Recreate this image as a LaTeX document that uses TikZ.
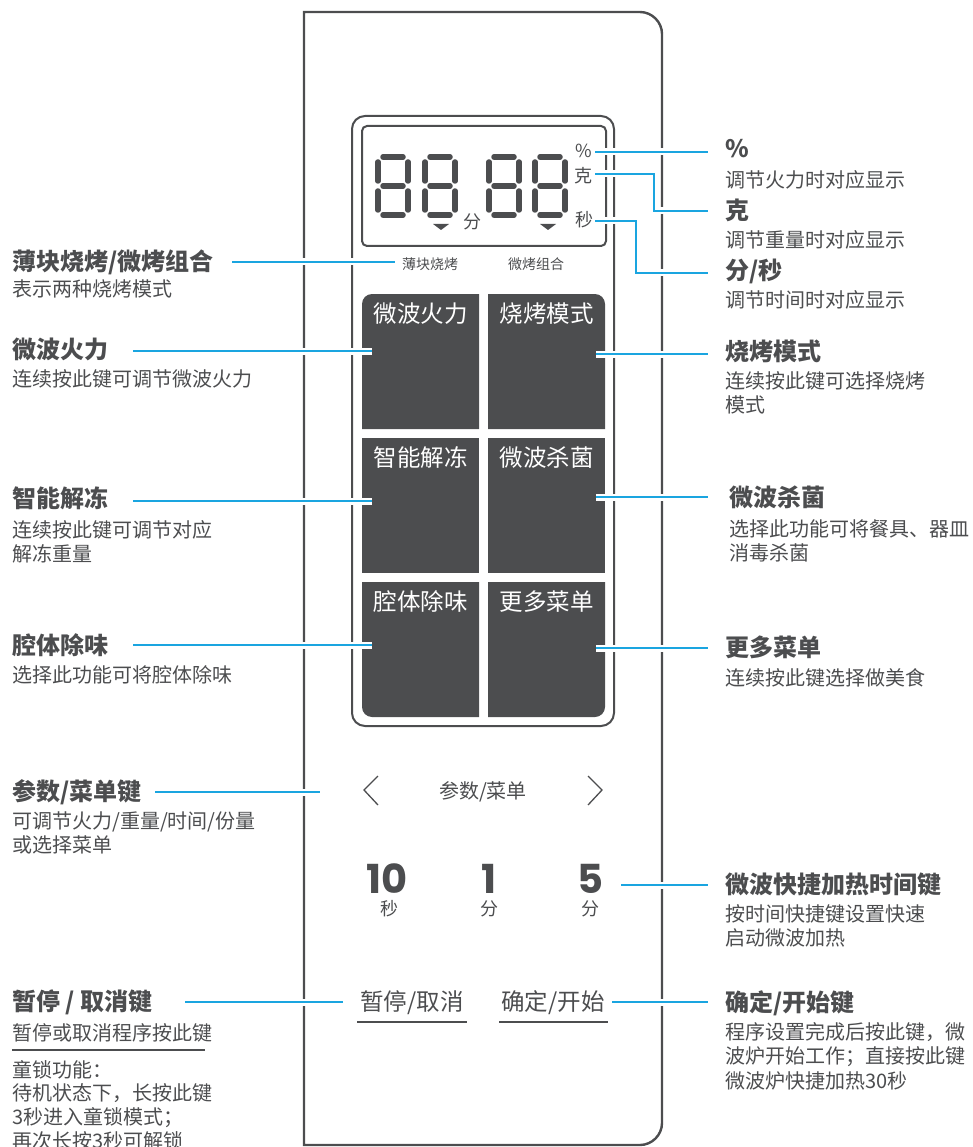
\documentclass[tikz,border=0pt]{standalone}
\usepackage{fontspec}
\setmainfont{Noto Sans CJK SC}
\newfontfamily\numfont{Poppins}
\definecolor{ink}{HTML}{4C4D4F}
\definecolor{leader}{HTML}{1AA5E0}
\tikzset{
  head/.style={anchor=north west,inner sep=0pt,yshift=-2pt,text=ink,font=\fontsize{24}{28}\selectfont\bfseries},
  body/.style={anchor=north west,inner sep=0pt,yshift=-1pt,text=ink,align=left,font=\fontsize{20}{24.5}\selectfont},
  lockbody/.style={anchor=north west,inner sep=0pt,yshift=-1pt,text=ink,align=left,font=\fontsize{20}{23.7}\selectfont},
  lcd/.style={inner sep=0pt,text=ink,font=\fontsize{18}{20}\selectfont},
  tiny/.style={inner sep=0pt,text=ink,font=\fontsize{14}{16}\selectfont},
  keytext/.style={inner sep=0pt,text=white,font=\fontsize{23.5}{28}\selectfont},
  btn/.style={inner sep=0pt,text=ink,font=\fontsize{23.5}{28}\selectfont},
  num/.style={inner sep=0pt,text=ink,text height=28pt,text depth=0pt,font=\fontsize{40}{44}\numfont\bfseries},
  unit/.style={inner sep=0pt,text=ink,text height=15pt,text depth=2pt,font=\fontsize{18}{20}\selectfont},
  frameline/.style={draw=ink,line width=2.4pt},
  seg/.style={draw=ink,line width=5.5pt,line cap=round},
  keyfill/.style={fill=ink},
  halo/.style={draw=white,line width=7pt},
  leadline/.style={draw=leader,line width=2pt},
  thinline/.style={draw=ink,line width=1.2pt},
  chev/.style={draw=ink,line width=1.3pt},
}
\newcommand{\sevenseg}[1]{%
  \draw[seg] (#1+8,157)--(#1+28,157);
  \draw[seg] (#1+8,186)--(#1+28,186);
  \draw[seg] (#1+8,215)--(#1+28,215);
  \draw[seg] (#1+3,162)--(#1+3,181);
  \draw[seg] (#1+33,162)--(#1+33,181);
  \draw[seg] (#1+3,191)--(#1+3,210);
  \draw[seg] (#1+33,191)--(#1+33,210);
}
\begin{document}
\begin{tikzpicture}[x=1pt,y=-1pt]
\useasboundingbox (0,0) rectangle (973,1147);
% outer device
\draw[frameline] (304,12) -- (640,12) .. controls (652,12) and (662,22) .. (662,34) -- (662,1123) .. controls (662,1135) and (652,1145) .. (640,1145) -- (304,1145) -- cycle;
% panel and display
\draw[frameline,line width=2pt,rounded corners=13pt] (352,116) rectangle (614,726);
\draw[frameline,line width=2pt,rounded corners=5pt] (362,126) rectangle (606,246);
% digits
\sevenseg{375}\sevenseg{422}\sevenseg{486}\sevenseg{532}
\fill[ink] (433,224)--(449,224)--(441,230)--cycle;
\fill[ink] (540,224)--(556,224)--(548,230)--cycle;
% keys
\fill[keyfill] (479,429)--(362,429)--(362,304) .. controls (362,298.5) and (366.5,294) .. (372,294)--(479,294)--cycle;
\fill[keyfill] (488,429)--(605,429)--(605,304) .. controls (605,298.5) and (600.5,294) .. (595,294)--(488,294)--cycle;
\fill[keyfill] (362,438) rectangle (479,573);
\fill[keyfill] (488,438) rectangle (605,573);
\fill[keyfill] (479,582)--(362,582)--(362,707) .. controls (362,712.5) and (366.5,717) .. (372,717)--(479,717)--cycle;
\fill[keyfill] (488,582)--(605,582)--(605,707) .. controls (605,712.5) and (600.5,717) .. (595,717)--(488,717)--cycle;
% chevrons
\draw[chev] (378,776)--(364,790)--(378,805);
\draw[chev] (588,776)--(602,790)--(588,805);
% underlines
\draw[thinline,line width=1.8pt] (357,1022)--(467,1022);
\draw[thinline,line width=1.8pt] (499,1022)--(608,1022);
\draw[thinline] (12,1050)--(205,1050);
% connector ends
\coordinate (aPct) at (595,152); \coordinate (bPct) at (708,152);
\coordinate (aKe) at (595,174); \coordinate (bKe) at (708,211);
\coordinate (aSec) at (595,221); \coordinate (bSec) at (708,273);
\coordinate (aThin) at (232,262); \coordinate (bThin) at (395,262);
\coordinate (aPow) at (133,351); \coordinate (bPow) at (372,351);
\coordinate (aDef) at (133,501); \coordinate (bDef) at (372,501);
\coordinate (aOdor) at (133,645); \coordinate (bOdor) at (372,645);
\coordinate (aPar) at (155,792); \coordinate (bPar) at (320,792);
\coordinate (aStop) at (185,1002); \coordinate (bStop) at (343,1002);
\coordinate (aGrill) at (596,354); \coordinate (bGrill) at (708,354);
\coordinate (aSter) at (596,497); \coordinate (bSter) at (708,497);
\coordinate (aMore) at (596,648); \coordinate (bMore) at (708,648);
\coordinate (aFast) at (621,885); \coordinate (bFast) at (708,885);
\coordinate (aOk) at (612,1002); \coordinate (bOk) at (708,1002);
% halos
\foreach \p/\q in {aPct/bPct,aThin/bThin,aPow/bPow,aDef/bDef,aOdor/bOdor,aPar/bPar,aStop/bStop,aGrill/bGrill,aSter/bSter,aMore/bMore,aFast/bFast,aOk/bOk}
  {\draw[halo] (\p)--(\q);\draw[leadline] (\p)--(\q);}
\draw[halo] (aKe)-|(654,211)--(bKe);
\draw[leadline] (aKe)-|(654,211)--(bKe);
\draw[halo] (aSec)-|(636,273)--(bSec);
\draw[leadline] (aSec)-|(636,273)--(bSec);
% display text
\node[lcd] (tFen) at (472,222) {分};
\node[lcd] (tPct) at (584,151) {\%};
\node[lcd] (tKe) at (583,176) {克};
\node[lcd] (tSec) at (584,220) {秒};
\node[tiny] (tThin) at (430,264) {薄块烧烤};
\node[tiny] (tCombo) at (536,264) {微烤组合};
% key text
\node[keytext] (k1) at (420.5,313.5) {微波火力};
\node[keytext] (k2) at (546.5,313.5) {烧烤模式};
\node[keytext] (k3) at (420.5,457.5) {智能解冻};
\node[keytext] (k4) at (546.5,457.5) {微波杀菌};
\node[keytext] (k5) at (420.5,601.5) {腔体除味};
\node[keytext] (k6) at (546.5,601.5) {更多菜单};
% lower controls
\node[inner sep=0pt,text=ink,font=\fontsize{20}{24}\selectfont] (mParam) at (483,792) {参数/菜单};
\node[num] (n10) at (387,879) {10};
\node[num] (n1) at (489,879) {1};
\node[num] (n5) at (590,879) {5};
\node[unit] (u10) at (389,909) {秒};
\node[unit] (u1) at (489,909) {分};
\node[unit] (u5) at (590,909) {分};
\node[btn] (bPause) at (412,1003) {暂停/取消};
\node[btn] (bStart) at (553,1003) {确定/开始};
% left labels
\node[head] (L1) at (12,248) {薄块烧烤/微烤组合};
\node[body] (L1s) at (12,279) {表示两种烧烤模式};
\node[head] (L2) at (12,336) {微波火力};
\node[body] (L2s) at (12,368) {连续按此键可调节微波火力};
\node[head] (L3) at (12,485) {智能解冻};
\node[body] (L3s) at (12,519) {连续按此键可调节对应\\解冻重量};
\node[head] (L4) at (12,631) {腔体除味};
\node[body] (L4s) at (12,664) {选择此功能可将腔体除味};
\node[head] (L5) at (12,777) {参数/菜单键};
\node[body] (L5s) at (12,810) {可调节火力/重量/时间/份量\\或选择菜单};
\node[head] (L6) at (12,988) {暂停 / 取消键};
\node[body] (L6s) at (12,1022) {暂停或取消程序按此键};
\node[lockbody] (L6t) at (12,1059) {童锁功能：\\待机状态下，长按此键\\3秒进入童锁模式；\\再次长按3秒可解锁};
% right labels
\node[head] (R1) at (725,137) {\%};
\node[body] (R1s) at (725,169) {调节火力时对应显示};
\node[head] (R2) at (725,197) {克};
\node[body] (R2s) at (725,229) {调节重量时对应显示};
\node[head] (R3) at (725,257) {分/秒};
\node[body] (R3s) at (725,289) {调节时间时对应显示};
\node[head] (R4) at (725,338) {烧烤模式};
\node[body] (R4s) at (725,370) {连续按此键可选择烧烤\\模式};
\node[head] (R5) at (729,484) {微波杀菌};
\node[body] (R5s) at (729,518) {选择此功能可将餐具、器皿\\消毒杀菌};
\node[head] (R6) at (725,634) {更多菜单};
\node[body] (R6s) at (725,667) {连续按此键选择做美食};
\node[head] (R7) at (725,871) {微波快捷加热时间键};
\node[body] (R7s) at (725,903) {按时间快捷键设置快速\\启动微波加热};
\node[head] (R8) at (725,988) {确定/开始键};
\node[body] (R8s) at (725,1021) {程序设置完成后按此键，微\\波炉开始工作；直接按此键\\微波炉快捷加热30秒};
\end{tikzpicture}
\end{document}
